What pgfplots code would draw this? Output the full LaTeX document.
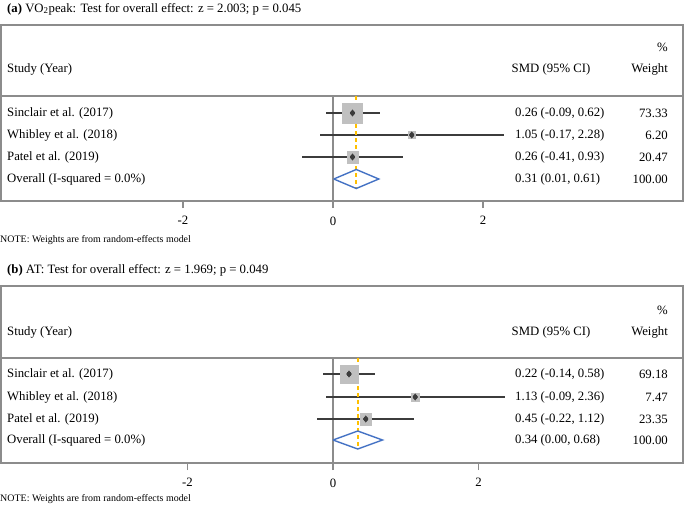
\documentclass[border=0pt]{standalone}
\usepackage{fontspec}
\setmainfont{Liberation Serif}
\usepackage{pgfplots}
\usepackage{pgfplotstable}
\pgfplotsset{compat=1.18}
\definecolor{framegray}{RGB}{140,140,140}
\definecolor{cigray}{RGB}{60,60,60}
\definecolor{boxgray}{RGB}{192,192,192}
\definecolor{dashorange}{RGB}{255,192,0}
\definecolor{diablue}{RGB}{68,114,196}

% panel (a): VO2peak ; y = vertical position of the row (negative, top = 0)
\pgfplotstableread{
est lo hi side y
0.26 -0.09 0.62 20 -113
1.05 -0.17 2.28 7 -135
0.26 -0.41 0.93 11.5 -157
}\tabA
% panel (b): AT
\pgfplotstableread{
est lo hi side y
0.22 -0.14 0.58 18.5 -374
1.13 -0.09 2.36 7.5 -397
0.45 -0.22 1.12 11.5 -419
}\tabB

\newcommand\bodyfont{\fontsize{12.8}{14}\selectfont}
\newcommand\notefont{\fontsize{10}{12}\selectfont}

\pgfplotsset{forest/.style={
  scale only axis, width=682bp,
  axis line style={framegray, line width=1.5bp},
  xtick={-2,0,2}, xticklabels={{-2},{0},{2}},
  ytick=\empty, xtick pos=left,
  tick align=outside, major tick length=7bp,
  tick style={draw=framegray, line width=1.5bp},
  xticklabel style={font=\bodyfont, text=black, yshift=-5bp},
  clip=false,
}}

\begin{document}
\begin{tikzpicture}
\useasboundingbox (0,0) rectangle (685bp,-506bp);

% ---------------- panel (a)
\begin{axis}[forest, height=176bp, at={(1bp,-201bp)}, anchor=south west,
  xmin=-4.4267, xmax=4.6667, ymin=-201, ymax=-25]
  \draw[framegray, line width=1.4bp] ({rel axis cs:0,0} |- {axis cs:0,-96}) -- ({rel axis cs:1,0} |- {axis cs:0,-96});
  \addplot[framegray, line width=1.4bp] coordinates {(0,-96) (0,-201)};
  \addplot[scatter, only marks, mark=square*,
    scatter/use mapped color={draw=boxgray, fill=boxgray},
    visualization depends on={\thisrow{side}/2 \as \hs},
    scatter/@pre marker code/.append style={/tikz/mark size=\hs}]
    table[x=est, y=y] {\tabA};
  \addplot[only marks, mark=none,
    error bars/.cd, x dir=both, x explicit, error mark=none,
    error bar style={cigray, line width=1.4bp, solid}]
    table[x=est, y=y, x error plus expr=\thisrow{hi}-\thisrow{est}, x error minus expr=\thisrow{est}-\thisrow{lo}] {\tabA};
  \addplot[only marks, mark=diamond*, mark size=3.2, mark options={fill=cigray, draw=cigray}]
    table[x=est, y=y] {\tabA};
  \addplot[color=dashorange, line width=1.6bp, dash pattern=on 4bp off 3bp] coordinates {(0.31,-96) (0.31,-188.5)};
  \addplot[color=diablue, line width=1.4bp, solid] coordinates {(0.01,-179) (0.31,-169.5) (0.61,-179) (0.31,-188.5) (0.01,-179)};
\end{axis}
% tick marks below the box (x = -2, 0, 2)
\draw[framegray, line width=1.5bp] (183bp,-200bp) -- (183bp,-208bp);
\draw[framegray, line width=1.5bp] (333bp,-200bp) -- (333bp,-208bp);
\draw[framegray, line width=1.5bp] (483bp,-200bp) -- (483bp,-208bp);

% ---------------- panel (b)
\begin{axis}[forest, height=177bp, at={(1bp,-463bp)}, anchor=south west,
  xmin=-4.5636, xmax=4.8110, ymin=-463, ymax=-286]
  \draw[framegray, line width=1.4bp] ({rel axis cs:0,0} |- {axis cs:0,-358}) -- ({rel axis cs:1,0} |- {axis cs:0,-358});
  \addplot[framegray, line width=1.4bp] coordinates {(0,-358) (0,-463)};
  \addplot[scatter, only marks, mark=square*,
    scatter/use mapped color={draw=boxgray, fill=boxgray},
    visualization depends on={\thisrow{side}/2 \as \hs},
    scatter/@pre marker code/.append style={/tikz/mark size=\hs}]
    table[x=est, y=y] {\tabB};
  \addplot[only marks, mark=none,
    error bars/.cd, x dir=both, x explicit, error mark=none,
    error bar style={cigray, line width=1.4bp, solid}]
    table[x=est, y=y, x error plus expr=\thisrow{hi}-\thisrow{est}, x error minus expr=\thisrow{est}-\thisrow{lo}] {\tabB};
  \addplot[only marks, mark=diamond*, mark size=3.2, mark options={fill=cigray, draw=cigray}]
    table[x=est, y=y] {\tabB};
  \addplot[color=dashorange, line width=1.6bp, dash pattern=on 4bp off 3bp] coordinates {(0.34,-358) (0.34,-449)};
  \addplot[color=diablue, line width=1.4bp, solid] coordinates {(0.00,-440) (0.34,-431) (0.68,-440) (0.34,-449) (0.00,-440)};
\end{axis}
\draw[framegray, line width=1.5bp] (187.5bp,-462bp) -- (187.5bp,-470bp);
\draw[framegray, line width=1.5bp] (333bp,-462bp) -- (333bp,-470bp);
\draw[framegray, line width=1.5bp] (478.5bp,-462bp) -- (478.5bp,-470bp);

% ---------------- texts
\begin{scope}[every node/.style={inner sep=0pt, font=\bodyfont}]
% panel (a)
\node[anchor=west] at (7bp,-9bp) {\textbf{(a)} VO\textsubscript{2}peak: Test for overall effect: z = 2.003; p = 0.045};
\node[anchor=west] at (7bp,-69bp) {Study (Year)};
\node at (551bp,-69bp) {SMD (95\% CI)};
\node[anchor=east] at (668bp,-47bp) {\%};
\node[anchor=east] at (668bp,-69bp) {Weight};
\node[anchor=west] at (7bp,-113bp) {Sinclair et al. (2017)};
\node[anchor=west] at (7bp,-135bp) {Whibley et al. (2018)};
\node[anchor=west] at (7bp,-157bp) {Patel et al. (2019)};
\node[anchor=west] at (7bp,-179bp) {Overall (I-squared = 0.0\%)};
\node[anchor=west] at (515bp,-113bp) {0.26 (-0.09, 0.62)};
\node[anchor=west] at (515bp,-135bp) {1.05 (-0.17, 2.28)};
\node[anchor=west] at (515bp,-157bp) {0.26 (-0.41, 0.93)};
\node[anchor=west] at (515bp,-179bp) {0.31 (0.01, 0.61)};
\node[anchor=east] at (668bp,-113bp) {73.33};
\node[anchor=east] at (668bp,-135bp) {6.20};
\node[anchor=east] at (668bp,-157bp) {20.47};
\node[anchor=east] at (668bp,-179bp) {100.00};
\node[anchor=west, font=\notefont] at (0bp,-240bp) {NOTE: Weights are from random-effects model};
% panel (b)
\node[anchor=west] at (7bp,-270bp) {\textbf{(b)} AT: Test for overall effect: z = 1.969; p = 0.049};
\node[anchor=west] at (7bp,-332bp) {Study (Year)};
\node at (551bp,-332bp) {SMD (95\% CI)};
\node[anchor=east] at (668bp,-310bp) {\%};
\node[anchor=east] at (668bp,-332bp) {Weight};
\node[anchor=west] at (7bp,-374bp) {Sinclair et al. (2017)};
\node[anchor=west] at (7bp,-397bp) {Whibley et al. (2018)};
\node[anchor=west] at (7bp,-419bp) {Patel et al. (2019)};
\node[anchor=west] at (7bp,-440bp) {Overall (I-squared = 0.0\%)};
\node[anchor=west] at (515bp,-374bp) {0.22 (-0.14, 0.58)};
\node[anchor=west] at (515bp,-397bp) {1.13 (-0.09, 2.36)};
\node[anchor=west] at (515bp,-419bp) {0.45 (-0.22, 1.12)};
\node[anchor=west] at (515bp,-440bp) {0.34 (0.00, 0.68)};
\node[anchor=east] at (668bp,-374bp) {69.18};
\node[anchor=east] at (668bp,-397bp) {7.47};
\node[anchor=east] at (668bp,-419bp) {23.35};
\node[anchor=east] at (668bp,-440bp) {100.00};
\node[anchor=west, font=\notefont] at (0bp,-499bp) {NOTE: Weights are from random-effects model};
\end{scope}
\end{tikzpicture}
\end{document}
